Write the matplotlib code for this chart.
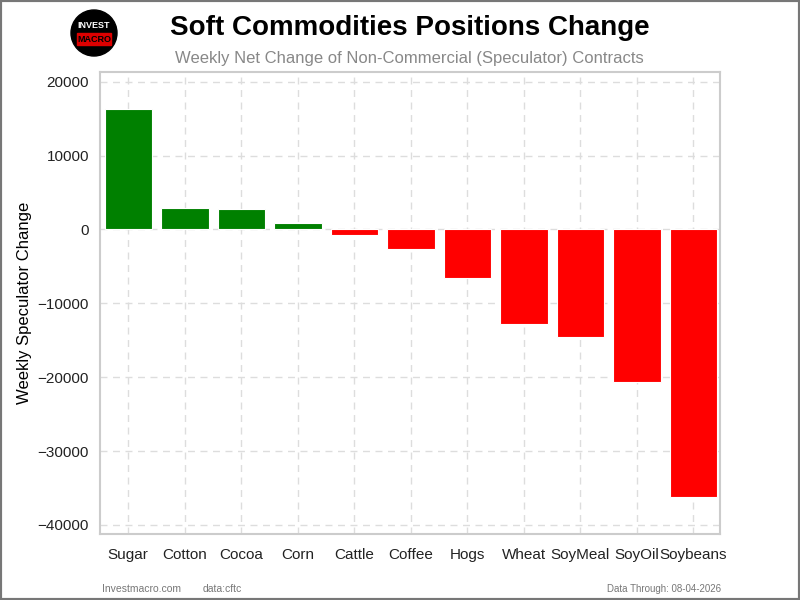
import matplotlib.pyplot as plt
from matplotlib.patches import Ellipse, Rectangle

plt.rcParams['font.family'] = ['Liberation Sans', 'DejaVu Sans']

# commodities and weekly net change of speculator contracts
commodities = ["Sugar", "Cotton", "Cocoa", "Corn", "Cattle", "Coffee",
               "Hogs", "Wheat", "SoyMeal", "SoyOil", "Soybeans"]
changes = [16300, 2880, 2750, 850, -730, -2650,
           -6550, -12800, -14550, -20630, -36220]
yticks = [-40000, -30000, -20000, -10000, 0, 10000, 20000]

fig = plt.figure(figsize=(8, 6), dpi=100)
ax = fig.add_axes([0.125, 0.11, 0.775, 0.77])

colors = ["green" if v >= 0 else "red" for v in changes]
ax.bar(range(len(commodities)), changes, width=0.84, color=colors,
       edgecolor="white", linewidth=0.8, zorder=3)

ax.set_xticks(range(len(commodities)))
ax.set_xticklabels(commodities, fontsize=11)
ax.set_yticks(yticks)
ax.set_yticklabels([str(t).replace("-", "\u2212") for t in yticks], fontsize=11)
ax.set_xlim(-0.5, 10.47)
ax.set_ylim(min(changes) - 5000, max(changes) + 5000)
ax.set_ylabel("Weekly Speculator Change", fontsize=12)
ax.tick_params(length=0, pad=8, colors="#222222")
ax.tick_params(axis="x", pad=10)

ax.grid(True, linestyle=(0, (5, 4)), color="#dddddd", linewidth=1, zorder=0)
for s in ax.spines.values():
    s.set_color("#cccccc")
    s.set_linewidth(1.5)

# titles
fig.text(0.512, 0.953, "Soft Commodities Positions Change", ha="center",
         va="center", fontsize=20, fontweight="bold")
fig.text(0.512, 0.903, "Weekly Net Change of Non-Commercial (Speculator) Contracts",
         ha="center", va="center", fontsize=12, color="#888888")

# logo (circle drawn as ellipse in figure coords so it stays round)
fig.patches.append(Ellipse((0.1175, 0.945), 0.0575, 0.0767, transform=fig.transFigure,
                           color="black", zorder=5))
fig.patches.append(Rectangle((0.0965, 0.925), 0.042, 0.02, transform=fig.transFigure,
                             color="#dd0000", zorder=6))
fig.text(0.1175, 0.957, "INVEST", ha="center", va="center", fontsize=6.5,
         fontweight="bold", color="white", zorder=7)
fig.text(0.1175, 0.935, "MACRO", ha="center", va="center", fontsize=6.5,
         fontweight="bold", color="black", zorder=7)

# footer
fig.text(0.127, 0.014, "Investmacro.com", fontsize=7.5, color="#777777")
fig.text(0.253, 0.014, "data:cftc", fontsize=7.5, color="#777777")
fig.text(0.901, 0.014, "Data Through: 08-04-2026", fontsize=7, color="#777777",
         ha="right")

# figure border
fig.patches.append(Rectangle((0, 0), 1, 1, transform=fig.transFigure, fill=False,
                             edgecolor="#777777", linewidth=3, zorder=10))

fig.savefig("out.png", dpi=100)
